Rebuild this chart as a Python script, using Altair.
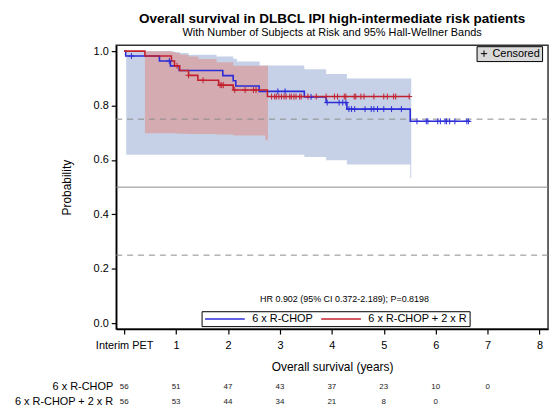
import altair as alt
import pandas as pd

FONT = "Liberation Sans"
BLUE = "#2d2dd8"
RED = "#c3202e"
BLUE_BAND = "#c6d1e7"
RED_BAND = "#d3abb1"
groups = ["6 x R-CHOP", "6 x R-CHOP + 2 x R"]

# Kaplan-Meier step curves (time in years, survival probability)
blue_t = [0, 0.03, 0.68, 0.89, 1.06, 1.90, 2.10, 2.15, 2.60, 3.47, 3.89, 4.29, 5.51, 6.66]
blue_s = [1.0, 0.982, 0.964, 0.946, 0.929, 0.910, 0.891, 0.872, 0.852, 0.832, 0.811, 0.787, 0.742, 0.742]
red_t = [0, 0.40, 0.91, 0.97, 1.07, 1.24, 1.42, 1.82, 2.10, 2.76, 5.50]
red_s = [1.0, 0.982, 0.964, 0.946, 0.929, 0.911, 0.893, 0.875, 0.857, 0.833, 0.833]

# censored observation times
blue_cens = [0.14, 0.87, 2.96, 3.10, 3.60, 3.91, 4.14, 4.21, 4.27, 4.33, 4.38, 4.44, 4.64,
             4.76, 4.81, 4.88, 5.00, 5.15, 5.34, 5.64, 5.82, 5.85, 6.04, 6.09, 6.18, 6.21,
             6.27, 6.37, 6.60, 6.63]
red_cens = [1.02, 1.24, 1.52, 1.85, 1.88, 1.91, 2.13, 2.33, 2.49, 2.54, 2.84, 2.90, 2.93,
            2.98, 3.03, 3.08, 3.12, 3.19, 3.22, 3.27, 3.31, 3.38, 3.41, 3.54, 3.70, 3.89,
            4.05, 4.11, 4.24, 4.27, 4.43, 4.46, 4.56, 4.62, 4.81, 5.00, 5.07, 5.19, 5.23, 5.49]

# 95% Hall-Wellner bands (step functions)
blue_band_t = [0.04, 0.96, 1.08, 1.24, 1.78, 2.10, 2.17, 2.61, 3.47, 3.89, 4.29, 5.51, 5.53]
blue_band_lo = [0.619, 0.619, 0.619, 0.619, 0.619, 0.619, 0.619, 0.619, 0.611, 0.599, 0.583, 0.534, 0.534]
blue_band_hi = [1.0, 0.996, 0.993, 0.987, 0.980, 0.972, 0.962, 0.947, 0.933, 0.916, 0.899, 0.899, 0.899]
red_band_t = [0.40, 0.91, 1.00, 1.08, 1.24, 1.43, 1.78, 2.10, 2.72, 2.77]
red_band_lo = [0.698, 0.698, 0.697, 0.696, 0.695, 0.695, 0.694, 0.690, 0.672, 0.672]
red_band_hi = [1.0, 0.996, 0.993, 0.987, 0.980, 0.971, 0.959, 0.946, 0.946, 0.946]

# number at risk
risk_t = [0, 1, 2, 3, 4, 5, 6, 7]
risk_blue = [56, 51, 47, 43, 37, 23, 10, 0]
risk_red = [56, 53, 44, 34, 21, 8, 0]

x_ticks = [0, 1, 2, 3, 4, 5, 6, 7, 8]
y_ticks = [0.0, 0.2, 0.4, 0.6, 0.8, 1.0]
hr_text = "HR 0.902 (95% CI 0.372-2.189); P=0.8198"

W, H = 435, 286
ROW1, ROW2 = 344, 359


def level(ts, ss, t):
    v = ss[0]
    for a, b in zip(ts, ss):
        if a <= t:
            v = b
    return v


lines = pd.DataFrame(
    [{"t": t, "s": s, "g": groups[0]} for t, s in zip(blue_t, blue_s)]
    + [{"t": t, "s": s, "g": groups[1]} for t, s in zip(red_t, red_s)]
)
cens = pd.DataFrame(
    [{"t": t, "s": level(blue_t, blue_s, t), "g": groups[0], "c": "Censored"} for t in blue_cens]
    + [{"t": t, "s": level(red_t, red_s, t), "g": groups[1], "c": "Censored"} for t in red_cens]
)
bband = pd.DataFrame({"t": blue_band_t, "lo": blue_band_lo, "hi": blue_band_hi})
rband = pd.DataFrame({"t": red_band_t, "lo": red_band_lo, "hi": red_band_hi})
risk = pd.DataFrame(
    [{"t": t, "n": str(n), "row": ROW1} for t, n in zip(risk_t, risk_blue)]
    + [{"t": t, "n": str(n), "row": ROW2} for t, n in zip(risk_t, risk_red)]
)
rowlab = pd.DataFrame({"lab": groups, "row": [ROW1, ROW2]})

xs = alt.Scale(domain=[-0.153, 8.164], nice=False, zero=False)
ys = alt.Scale(domain=[-0.0219, 1.0219], nice=False, zero=False)
cs = alt.Scale(domain=groups, range=[BLUE, RED])
PLUS = "M-1,0L1,0M0,-1L0,1"
LEGLINE = "M-1,0L9,0"

xaxis = alt.Axis(values=x_ticks, title="Overall survival (years)",
                 labelExpr="datum.value == 0 ? 'Interim PET' : datum.label",
                 labelPadding=6, titlePadding=11, grid=False)
yaxis = alt.Axis(values=y_ticks, format=".1f", title="Probability",
                 labelPadding=3, titlePadding=20, grid=False)

band_b = alt.Chart(bband).mark_area(interpolate="step-after", color=BLUE_BAND, opacity=1).encode(
    x=alt.X("t:Q", scale=xs, axis=xaxis),
    y=alt.Y("lo:Q", scale=ys, axis=yaxis),
    y2="hi:Q",
)
band_r = alt.Chart(rband).mark_area(interpolate="step-after", color=RED_BAND, opacity=1).encode(
    x=alt.X("t:Q", scale=xs), y=alt.Y("lo:Q", scale=ys), y2="hi:Q"
)

refs = pd.DataFrame({"y": [0.75, 0.5, 0.25], "d": ["dash", "solid", "dash"]})
ref_dash = alt.Chart(refs[refs.d == "dash"]).mark_rule(color="#8c8c8c", strokeDash=[6, 5], strokeWidth=1).encode(
    y=alt.Y("y:Q", scale=ys))
ref_solid = alt.Chart(refs[refs.d == "solid"]).mark_rule(color="#8c8c8c", strokeWidth=1).encode(
    y=alt.Y("y:Q", scale=ys))

km = alt.Chart(lines).mark_line(interpolate="step-after", strokeWidth=1.6).encode(
    x=alt.X("t:Q", scale=xs),
    y=alt.Y("s:Q", scale=ys),
    color=alt.Color("g:N", scale=cs, legend=alt.Legend(
        title=None, orient="none", legendX=86, legendY=268, direction="horizontal",
        symbolType=LEGLINE, symbolSize=64, symbolStrokeWidth=1.5, symbolFillColor="transparent",
        labelFont=FONT, labelFontSize=11, labelColor="black", labelOffset=38,
        strokeColor="black", fillColor="white", padding=2, columnPadding=4, rowPadding=0)),
    detail="g:N",
)

marks = alt.Chart(cens).mark_point(strokeWidth=1, size=36, filled=False, opacity=1).encode(
    x=alt.X("t:Q", scale=xs),
    y=alt.Y("s:Q", scale=ys),
    color=alt.Color("g:N", scale=cs),
    shape=alt.Shape("c:N", scale=alt.Scale(domain=["Censored"], range=[PLUS]), legend=alt.Legend(
        title=None, orient="none", legendX=363, legendY=1,
        fillColor="#d9d9d9", strokeColor="black", padding=2,
        symbolStrokeColor="black", symbolFillColor="transparent", symbolSize=40,
        symbolStrokeWidth=1, labelFont=FONT, labelFontSize=11, labelColor="black", labelOffset=3,
        labelLimit=0)),
)

hr = alt.Chart(pd.DataFrame({"txt": [hr_text]})).mark_text(
    font=FONT, fontSize=9, color="black", align="center", baseline="middle").encode(
    x=alt.value(230), y=alt.value(256), text="txt:N")

risk_txt = alt.Chart(risk).mark_text(font=FONT, fontSize=8, color="#222", align="center", baseline="middle").encode(
    x=alt.X("t:Q", scale=xs), y=alt.Y("row:Q", scale=None), text="n:N")

row_txt = alt.Chart(rowlab).mark_text(font=FONT, fontSize=11, color="black", align="right", baseline="middle").encode(
    x=alt.value(-3), y=alt.Y("row:Q", scale=None), text="lab:N")

chart = alt.layer(band_b, band_r, ref_dash, ref_solid, km, marks, hr, risk_txt, row_txt).properties(
    width=W, height=H,
    title=alt.TitleParams(
        text="Overall survival in DLBCL IPI high-intermediate risk patients",
        subtitle="With Number of Subjects at Risk and 95% Hall-Wellner Bands",
        font=FONT, fontSize=13.6, fontWeight="bold", color="black",
        subtitleFont=FONT, subtitleFontSize=11, subtitleColor="black", subtitlePadding=2,
        anchor="middle", offset=7),
    padding={"left": 109, "top": 36, "right": 4, "bottom": 76},
    autosize=alt.AutoSizeParams(type="none"),
).configure_view(stroke="#333", strokeWidth=1.5).configure_axis(
    labelFont=FONT, titleFont=FONT, labelFontSize=11, titleFontSize=12,
    titleFontWeight="normal", labelColor="black", titleColor="black",
    tickColor="black", domainColor="black", domainWidth=1.5, tickSize=5, tickWidth=1.2,
).resolve_scale(shape="independent")

chart.save("out.html", embed_options={"renderer": "svg", "actions": False})
